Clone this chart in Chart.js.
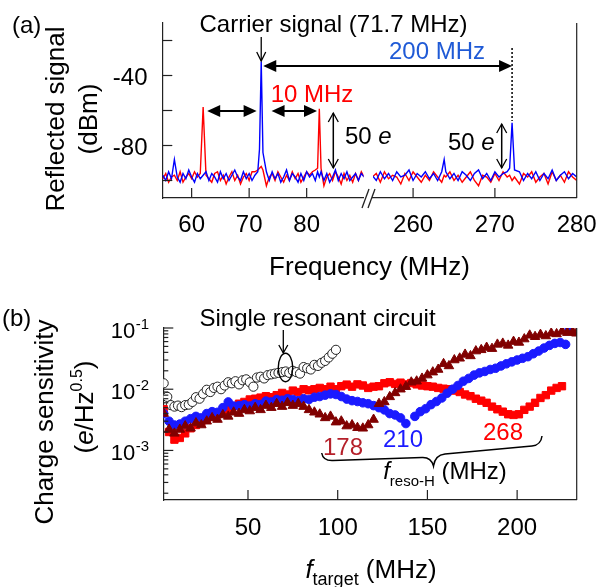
<!DOCTYPE html>
<html><head><meta charset="utf-8">
<script src="https://cdn.jsdelivr.net/npm/chart.js@4.4.1/dist/chart.umd.min.js"></script>
<style>
html,body{margin:0;padding:0;background:#fff;width:600px;height:587px;overflow:hidden}
canvas{position:absolute}
</style></head><body>
<canvas id="a1" width="372" height="240" style="left:0px;top:0px"></canvas>
<canvas id="a2" width="235" height="240" style="left:365px;top:0px"></canvas>
<canvas id="b" width="600" height="347" style="left:0px;top:240px"></canvas>
<canvas id="ov" width="600" height="587" style="left:0px;top:0px"></canvas>
<script>
// ---------- Panel (a): spectrum, left segment ----------
const freqLeft = [55,55.5,56,56.5,57,57.5,58,58.5,59,59.5,60,60.5,61,61.5,62,62.5,63,63.5,64,64.5,65,65.5,66,66.5,67,67.5,68,68.5,69,69.5,70,70.5,71,71.5,71.8,72.1,72.4,73,73.5,74,74.5,75,75.5,76,76.5,77,77.5,78,78.5,79,79.5,80,80.5,81,81.5,81.9,82.2,82.5,83,83.5,84,84.5,85,85.5,86,86.5,87,87.5,88,88.5,89,89.5,90];
const redLeft = [-99,-96,-101,-98,-97,-100,-95,-101,-98,-96,-99,-95,-98,-96,-58,-97,-99,-101,-96,-95,-100,-97,-102,-98,-95,-100,-97,-102,-98,-96,-100,-95,-95,-94,-93,-92,-94,-103,-98,-96,-100,-95,-98,-101,-97,-100,-95,-99,-96,-101,-98,-95,-97,-95,-94,-93,-59,-93,-103,-98,-96,-100,-95,-98,-102,-96,-100,-97,-101,-96,-100,-95,-98];
const blueLeft = [-97,-100,-95,-99,-88,-98,-101,-96,-99,-94,-98,-101,-96,-99,-97,-95,-100,-96,-98,-101,-95,-99,-96,-100,-97,-94,-98,-100,-95,-99,-96,-100,-97,-95,-82,-32,-84,-95,-100,-95,-99,-96,-101,-98,-94,-100,-96,-98,-101,-96,-100,-95,-98,-96,-100,-95,-98,-95,-100,-96,-101,-98,-94,-100,-96,-99,-95,-100,-98,-96,-100,-96,-98];
// ---------- Panel (a): spectrum, right segment ----------
const freqRight = [255,255.5,256,256.5,257,257.5,258,258.5,259,259.5,260,260.5,261,261.5,262,262.5,263,263.5,263.8,264,264.5,265,265.5,266,266.5,267,267.5,268,268.5,269,269.5,270,270.5,271,271.5,271.8,272.1,272.4,273,273.5,274,274.5,275,275.5,276,276.5,277,277.5,278,278.5,279,279.5,280];
const redRight = [-98,-96,-101,-95,-99,-97,-98,-102,-96,-100,-95,-98,-101,-97,-100,-95,-98,-101,-97,-98,-95,-100,-97,-101,-98,-95,-100,-103,-97,-98,-101,-96,-100,-95,-98,-97,-100,-98,-102,-96,-98,-95,-101,-98,-96,-102,-95,-100,-97,-101,-95,-98,-100];
const blueRight = [-97,-100,-95,-99,-96,-100,-95,-98,-97,-94,-100,-96,-98,-95,-99,-96,-100,-95,-88,-95,-99,-96,-100,-95,-97,-100,-96,-94,-99,-96,-100,-95,-98,-96,-95,-93,-67,-94,-95,-100,-96,-99,-95,-100,-96,-99,-94,-100,-97,-95,-99,-96,-98];
const xTicksLeft = [60,70,80];
const xTicksRight = [260,270,280];
const yTicksA = [-100,-80,-60,-40,-20];
const yLabelsA = [-40,-80];

// ---------- Panel (b): charge sensitivity ----------
const fSingle = [3,5,7,9,11,13,15,17,19,21,23,25,27,29,31,33,35,37,39,41,43,45,47,49,51,53,55,57,59,61,63,65,67,69,71,73,75,77,79,81,83,85,87,89,91,93,95,97,99];
const sSingle = [0.0125,0.0075,0.0055,0.0052,0.0054,0.0051,0.0055,0.0056,0.0062,0.0074,0.0070,0.0084,0.0098,0.0090,0.0105,0.0110,0.0100,0.0115,0.0130,0.0125,0.0135,0.0120,0.0140,0.0145,0.0130,0.0110,0.0155,0.0160,0.0150,0.0170,0.0175,0.0180,0.0185,0.0190,0.0195,0.0185,0.0200,0.0190,0.0180,0.0230,0.0220,0.0210,0.0250,0.0240,0.0270,0.0290,0.0330,0.0380,0.0440];
const f268 = [3,6,9,12,15,18,21,24,27,30,33,36,39,42,45,48,51,54,57,60,63,66,69,72,75,78,81,84,87,90,93,96,99,102,105,108,111,114,117,120,123,126,129,132,135,138,141,144,147,150,153,156,159,162,165,168,171,174,177,180,183,186,189,192,195,198,201,204,207,210,213,216,219,222,225];
const s268 = [0.0047,0.0020,0.0015,0.0016,0.0019,0.0023,0.0026,0.0029,0.0032,0.0036,
  0.0039,0.0044,0.0048,0.0053,0.0058,0.0062,0.0068,0.0070,0.0073,0.0077,
  0.0074,0.0080,0.0087,0.0082,0.0095,0.0090,0.0100,0.0096,0.0100,0.0105,
  0.0100,0.0110,0.0100,0.0112,0.0119,0.0110,0.0120,0.0115,0.0105,0.0110,
  0.0112,0.0125,0.0130,0.0122,0.0128,0.0120,0.0126,0.0120,0.0115,0.0112,
  0.0110,0.0105,0.0102,0.0100,0.0095,0.0090,0.0082,0.0077,0.0070,0.0065,
  0.0060,0.0052,0.0047,0.0043,0.0039,0.0038,0.0039,0.0046,0.0052,0.0060,
  0.0072,0.0080,0.0095,0.0105,0.0112];
const f210 = [3,6,9,12,15,18,21,24,27,30,33,36,39,42,45,48,51,54,57,60,63,66,69,72,75,78,81,84,87,90,93,96,99,102,105,108,111,114,117,120,123,126,129,132,135,138,143,146,149,152,155,158,161,164,167,170,173,176,179,182,185,188,191,194,197,200,203,206,209,212,215,218,221,224,227,229];
const s210 = [0.0040,0.0030,0.0026,0.0027,0.0030,0.0033,0.0036,0.0034,0.0040,0.0043,
  0.0042,0.0050,0.0062,0.0053,0.0054,0.0056,0.0053,0.0058,0.0056,0.0064,
  0.0062,0.0068,0.0066,0.0070,0.0068,0.0065,0.0070,0.0068,0.0074,0.0076,
  0.0080,0.0084,0.0082,0.0076,0.0069,0.0065,0.0063,0.0060,0.0058,0.0054,
  0.0050,0.0046,0.0040,0.0038,0.0034,0.00275,
  0.0036,0.0043,0.0048,0.0056,0.0063,0.0072,0.0086,0.0100,0.0115,0.0135,
  0.0150,0.0170,0.0185,0.0195,0.0210,0.0220,0.0240,0.0260,0.0280,0.0300,
  0.0320,0.0340,0.0380,0.0420,0.0470,0.0520,0.0560,0.0580,0.0540,0.0950];
const f178 = [3,6,9,12,15,18,21,24,27,30,33,36,39,42,45,48,51,54,57,60,63,66,69,72,75,78,81,84,87,90,93,96,99,102,105,108,111,114,117,120,123,126,129,132,135,138,141,144,147,150,153,156,159,162,165,168,171,174,177,180,183,186,189,192,195,198,201,204,207,210,213,216,219,222,225,228,231,233];
const s178 = [0.0040,0.0022,0.0019,0.0022,0.0025,0.0023,0.0028,0.0026,0.0030,0.0034,
  0.0032,0.0038,0.0036,0.0042,0.0040,0.0046,0.0044,0.0050,0.0046,0.0054,
  0.0050,0.0058,0.0052,0.0060,0.0054,0.0058,0.0052,0.0046,0.0042,0.0039,
  0.0034,0.0036,0.0029,0.0030,0.0025,0.0026,0.00235,0.0023,0.0026,0.0032,
  0.0058,0.0062,0.0075,0.0087,0.0100,0.0110,0.0130,0.0135,0.0150,0.0170,
  0.0190,0.0210,0.0260,0.0240,0.0300,0.0320,0.0370,0.0350,0.0420,0.0440,
  0.0480,0.0460,0.0540,0.0560,0.0520,0.0600,0.0580,0.0660,0.0760,0.0720,
  0.0780,0.0740,0.0820,0.0800,0.0880,0.0840,0.0870,0.0820];
const xTicksB = [50,100,150,200];
const yTicksB = [0.1,0.01,0.001];
const yExpB = ['-1','-2','-3'];

// ---------- styling ----------
const FONT = "'Liberation Sans', Arial, Helvetica, sans-serif";
const RED = '#ff0000', BLUE = '#0000ff', BLUE_PT = '#1a1aff', DARKRED = '#800000';
const AX = '#222';
Chart.defaults.font.family = FONT;
Chart.defaults.color = '#000';

function lineDs(label, xs, ys, color, order) {
  return {label, data: xs.map((x, i) => ({x, y: ys[i]})), borderColor: color, backgroundColor: color,
    borderWidth: 1.4, pointRadius: 0, tension: 0, order, fill: false};
}
function ptDs(label, xs, ys, style, r, fill, stroke, order) {
  return {label, data: xs.map((x, i) => ({x, y: ys[i]})), pointStyle: style, pointRadius: r,
    backgroundColor: fill, borderColor: stroke, pointBorderWidth: 1, order};
}
const common = {responsive: false, animation: false, devicePixelRatio: 1,
  plugins: {legend: {display: false}, tooltip: {enabled: false}}, events: []};
function setTicks(list) { return s => { s.ticks = list.map(v => ({value: v})); }; }
const noLbl = {display: false};
const noGrid = {display: false, drawTicks: false};
const axBorder = {display: true, color: AX, width: 1.2};

const a1 = new Chart(document.getElementById('a1'), {
  type: 'line',
  data: {datasets: [lineDs('blue', freqLeft, blueLeft, BLUE, 1), lineDs('red', freqLeft, redLeft, RED, 2)]},
  options: Object.assign({}, common, {
    layout: {padding: {left: 0, top: 23, right: 372 - 363.6, bottom: 0}},
    scales: {
      x: {type: 'linear', min: 54.9, max: 89.9, afterBuildTicks: setTicks(xTicksLeft), ticks: noLbl,
        grid: noGrid, border: axBorder, afterFit: s => { s.height = 42; }},
      y: {type: 'linear', min: -110, max: -10, afterBuildTicks: setTicks(yTicksA), ticks: noLbl,
        grid: noGrid, border: axBorder, afterFit: s => { s.width = 162.3; }}
    }
  })
});

const a2 = new Chart(document.getElementById('a2'), {
  type: 'line',
  data: {datasets: [lineDs('blue', freqRight, blueRight, BLUE, 1), lineDs('red', freqRight, redRight, RED, 2)]},
  options: Object.assign({}, common, {
    layout: {padding: {left: 8, top: 23, right: 235 - 211.7, bottom: 0}},
    scales: {
      x: {type: 'linear', min: 255.1, max: 280, afterBuildTicks: setTicks(xTicksRight), ticks: noLbl,
        grid: noGrid, border: axBorder, afterFit: s => { s.height = 42; }},
      y: {type: 'linear', min: -110, max: -10, display: false}
    }
  })
});

const b = new Chart(document.getElementById('b'), {
  type: 'scatter',
  data: {datasets: [
    ptDs('178', f178, s178, 'triangle', 5.5, DARKRED, DARKRED, 1),
    ptDs('210', f210, s210, 'circle', 4.3, BLUE_PT, BLUE_PT, 2),
    ptDs('268', f268, s268, 'rect', 5.2, RED, RED, 3),
    ptDs('single', fSingle, sSingle, 'circle', 4.6, '#fff', '#222', 4)
  ]},
  options: Object.assign({}, common, {
    layout: {padding: {left: 0, top: 88, right: 600 - 576.7, bottom: 0}},
    scales: {
      x: {type: 'linear', min: 2.8, max: 233.2, afterBuildTicks: setTicks(xTicksB), ticks: noLbl,
        grid: noGrid, border: axBorder, afterFit: s => { s.height = 87; }},
      y: {type: 'logarithmic', min: 1.55e-4, max: 0.1, afterBuildTicks: setTicks(yTicksB), ticks: noLbl,
        grid: noGrid, border: axBorder, afterFit: s => { s.width = 163.3; }}
    }
  })
});

// ---------- overlay: ticks, tick labels, titles, annotations ----------
const ctx = document.getElementById('ov').getContext('2d');
const A2X = 365, BY = 240;
function setFont(size, it) { ctx.font = (it ? 'italic ' : '') + size + 'px ' + FONT; }
function richText(parts, x, y, align) {
  let total = 0;
  for (const p of parts) { setFont(p.s, p.i); p.w = ctx.measureText(p.t).width; total += p.w; }
  let cx = align === 'center' ? x - total / 2 : align === 'right' ? x - total : x;
  ctx.textAlign = 'left'; ctx.textBaseline = 'alphabetic';
  for (const p of parts) { setFont(p.s, p.i); ctx.fillStyle = p.c || '#000'; ctx.fillText(p.t, cx, y + (p.dy || 0)); cx += p.w; }
}
function rotText(parts, x, y) { ctx.save(); ctx.translate(x, y); ctx.rotate(-Math.PI / 2); richText(parts, 0, 0, 'center'); ctx.restore(); }
function line(x1, y1, x2, y2, w, color) {
  ctx.beginPath(); ctx.moveTo(x1, y1); ctx.lineTo(x2, y2);
  ctx.lineWidth = w || 1.2; ctx.strokeStyle = color || AX; ctx.stroke();
}
function headFilled(x, y, ang, len, hw) {
  const c = Math.cos(ang), s = Math.sin(ang);
  ctx.beginPath(); ctx.moveTo(x, y);
  ctx.lineTo(x - len * c + hw * s, y - len * s - hw * c);
  ctx.lineTo(x - len * c - hw * s, y - len * s + hw * c);
  ctx.closePath(); ctx.fillStyle = '#000'; ctx.fill();
}
function headOpen(x, y, ang, len, hw) {
  const c = Math.cos(ang), s = Math.sin(ang);
  ctx.beginPath();
  ctx.moveTo(x - len * c + hw * s, y - len * s - hw * c); ctx.lineTo(x, y);
  ctx.lineTo(x - len * c - hw * s, y - len * s + hw * c);
  ctx.lineWidth = 1.3; ctx.strokeStyle = '#000'; ctx.stroke();
}
function dblArrowH(x1, x2, y) { line(x1 + 4, y, x2 - 4, y, 1.8, '#000'); headFilled(x1, y, Math.PI, 13, 6); headFilled(x2, y, 0, 13, 6); }
function dblArrowV(x, y1, y2) { line(x, y1, x, y2, 1.5, '#000'); headOpen(x, y1, -Math.PI / 2, 9, 5); headOpen(x, y2, Math.PI / 2, 9, 5); }
function label(t, x, y, size, align) { setFont(size); ctx.fillStyle = '#000'; ctx.textAlign = align; ctx.textBaseline = 'alphabetic'; ctx.fillText(t, x, y); }

// panel (a) frame, ticks, tick labels
const caA = a1.chartArea, caA2 = a2.chartArea;
line(caA2.right + A2X, caA2.top, caA2.right + A2X, caA2.bottom, 1.2);
xTicksLeft.forEach(v => { const px = a1.scales.x.getPixelForValue(v); line(px, caA.bottom, px, caA.bottom - 10); label(String(v), px, caA.bottom + 34, 24, 'center'); });
xTicksRight.forEach(v => { const px = a2.scales.x.getPixelForValue(v) + A2X; if (v < 280) line(px, caA2.bottom, px, caA2.bottom - 10); label(String(v), px, caA2.bottom + 34, 24, 'center'); });
yTicksA.forEach(v => { const py = a1.scales.y.getPixelForValue(v); line(caA.left, py, caA.left + 10, py); if (yLabelsA.includes(v)) label(String(v), 147.5, py + 9, 24, 'right'); });
line(362, 208, 369, 189, 1.3); line(368, 208, 375, 189, 1.3);

// panel (a) texts
richText([{t: '(a)', s: 24}], 12, 33, 'left');
rotText([{t: 'Reflected signal', s: 26}], 64, 119);
rotText([{t: '(dBm)', s: 26}], 97, 119);
richText([{t: 'Frequency (MHz)', s: 26}], 369.5, 275, 'center');
richText([{t: 'Carrier signal (71.7 MHz)', s: 24}], 333.5, 32, 'center');
const carrierX = a1.scales.x.getPixelForValue(72.1);
const sideX = a2.scales.x.getPixelForValue(272.1) + A2X;
line(carrierX, 37, carrierX, 61, 1.3, '#000'); headOpen(carrierX, 61, Math.PI / 2, 9, 4.5);
dblArrowH(carrierX + 2, sideX, 66);
ctx.save(); ctx.setLineDash([2, 2]); line(sideX, 48, sideX, 121, 1.5, '#000'); ctx.restore();
richText([{t: '200 MHz', s: 24, c: '#1f5ad6'}], 437, 59, 'center');
dblArrowH(a1.scales.x.getPixelForValue(62.7), a1.scales.x.getPixelForValue(71.3), 111);
dblArrowH(a1.scales.x.getPixelForValue(73.9), a1.scales.x.getPixelForValue(81.8), 111);
richText([{t: '10 MHz', s: 24, c: RED}], 312, 102, 'center');
dblArrowV(333.3, 113, 168);
richText([{t: '50 ', s: 24}, {t: 'e', s: 24, i: true}], 345, 143.5, 'left');
dblArrowV(501.7, 124, 168);
richText([{t: '50 ', s: 24}, {t: 'e', s: 24, i: true}], 448, 150, 'left');

// panel (b) frame, ticks, tick labels
const caB = b.chartArea;
line(caB.right, caB.top + BY, caB.right, caB.bottom + BY, 1.2);
xTicksB.forEach(v => { const px = b.scales.x.getPixelForValue(v); line(px, caB.bottom + BY, px, caB.bottom + BY - 10); label(String(v), px, caB.bottom + BY + 35, 24, 'center'); });
yTicksB.forEach(v => { const py = b.scales.y.getPixelForValue(v) + BY; line(caB.left, py, caB.left + 10, py); });
[1e-4, 1e-3, 1e-2].forEach(d => { for (let m = 2; m <= 9; m++) { const v = m * d; if (v >= 1.55e-4 && v < 0.1) { const py = b.scales.y.getPixelForValue(v) + BY; line(caB.left, py, caB.left + 5, py); } } });
yTicksB.forEach((v, i) => {
  const py = b.scales.y.getPixelForValue(v) + BY;
  setFont(15); const ew = ctx.measureText(yExpB[i]).width;
  label(yExpB[i], 149, py + 0.5, 15, 'right');
  label('10', 149 - ew - 0.5, py + 10, 22, 'right');
});

// panel (b) texts
richText([{t: '(b)', s: 24}], 2, 326, 'left');
rotText([{t: 'Charge sensitivity', s: 26}], 53, 422);
rotText([{t: '(', s: 26}, {t: 'e', s: 26, i: true}, {t: '/Hz', s: 26}, {t: '0.5', s: 16, dy: -11}, {t: ')', s: 26}], 93, 407);
richText([{t: 'f', s: 26, i: true}, {t: 'target', s: 18, dy: 7}, {t: ' (MHz)', s: 26}], 371, 578, 'center');
richText([{t: 'Single resonant circuit', s: 24}], 317.5, 326, 'center');
line(283.3, 330, 283.3, 353, 1.3, '#000'); headOpen(283.3, 353, Math.PI / 2, 8, 4.5);
ctx.beginPath(); ctx.ellipse(285.5, 367.5, 7.2, 14.2, 0, 0, Math.PI * 2); ctx.lineWidth = 1.4; ctx.strokeStyle = '#000'; ctx.stroke();
richText([{t: '178', s: 24, c: '#b5202a'}], 343, 455, 'center');
richText([{t: '210', s: 24, c: BLUE_PT}], 403, 447, 'center');
richText([{t: '268', s: 24, c: RED}], 503, 440, 'center');
ctx.beginPath();
ctx.moveTo(321.7, 453);
ctx.quadraticCurveTo(323, 461, 333, 460.5);
ctx.lineTo(422, 457.5);
ctx.quadraticCurveTo(431, 457, 433.5, 466);
ctx.quadraticCurveTo(435, 455, 445, 454);
ctx.lineTo(532, 446);
ctx.quadraticCurveTo(541, 445, 542, 436);
ctx.lineWidth = 1.5; ctx.strokeStyle = '#000'; ctx.stroke();
richText([{t: 'f', s: 24, i: true}, {t: 'reso-H', s: 15, dy: 7}, {t: ' (MHz)', s: 24}], 445, 479, 'center');
</script>
</body></html>
